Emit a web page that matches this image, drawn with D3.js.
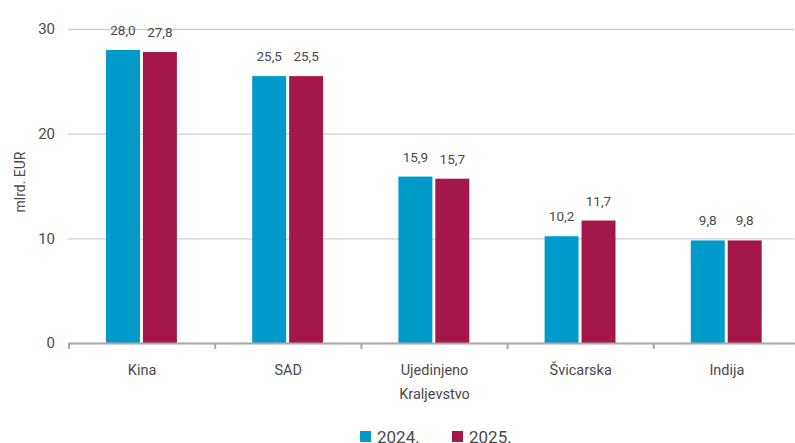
<!DOCTYPE html>
<html><head><meta charset="utf-8">
<script src="https://cdn.jsdelivr.net/npm/d3@7"></script>
<style>
html,body{margin:0;padding:0;background:#fff;overflow:hidden}
text{font-family:Roboto,"Noto Sans",sans-serif;fill:#4a4a4a}
</style></head>
<body><svg id="c" width="795" height="443"></svg>
<script>
const categories = ["Kina", "SAD", "Ujedinjeno Kraljevstvo", "Švicarska", "Indija"];
const series = ["2024.", "2025."];
const values2024 = [28.0, 25.5, 15.9, 10.2, 9.8];
const values2025 = [27.8, 25.5, 15.7, 11.7, 9.8];
const yTicks = [0, 10, 20, 30];
const colors = ["#009bca", "#a4174b"];
const yTitle = "mlrd. EUR";

(function(){
const svg = d3.select("#c");
const mLeft = 69, mRight = 800, mTop = 29, mBottom = 343;
const x = d3.scaleBand().domain(categories).range([mLeft, mRight]).paddingInner(0).paddingOuter(0);
const bw = x.bandwidth();
const x1 = d3.scaleBand().domain(series).range([bw*0.253, bw*0.738]).paddingInner(0.08);
const y = d3.scaleLinear().domain([0, 30]).range([mBottom, mTop]);
const fmt = v => v.toFixed(1).replace(".", ",");

const ya = svg.append("g").attr("transform", `translate(${mLeft-1},0)`)
  .call(d3.axisLeft(y).tickValues(yTicks).tickSize(-(795-mLeft)).tickPadding(13).tickFormat(d3.format("d")));
ya.select(".domain").remove();
ya.selectAll(".tick line").attr("stroke", "#cfcfcf").attr("stroke-width", 1.3);
ya.selectAll(".tick text").style("font-size", "15px").attr("fill", "#4a4a4a");

svg.append("text").attr("transform", `translate(25,182) rotate(-90)`)
  .attr("text-anchor", "middle").style("font-size", "14px").text(yTitle);

const data = categories.map((c, i) => ({c, vals: [values2024[i], values2025[i]]}));
const groups = svg.selectAll("g.grp").data(data).join("g").attr("class", "grp")
  .attr("transform", d => `translate(${x(d.c)},0)`);
groups.selectAll("rect").data(d => d.vals.map((v, j) => ({s: series[j], v, j})))
  .join("rect")
  .attr("x", d => x1(d.s)).attr("width", x1.bandwidth())
  .attr("y", d => y(d.v)).attr("height", d => y(0) - y(d.v))
  .attr("fill", d => colors[d.j]);
groups.selectAll("text.val").data(d => d.vals.map((v, j) => ({s: series[j], v, j})))
  .join("text").attr("class", "val")
  .attr("x", d => x1(d.s) + x1.bandwidth()/2)
  .attr("y", d => y(d.v) - 15)
  .attr("text-anchor", "middle").style("font-size", "13.5px").text(d => fmt(d.v));

const xa = svg.append("g").attr("transform", `translate(0,${mBottom})`)
  .call(d3.axisBottom(x).tickSize(0).tickPadding(0).tickFormat(""));
xa.select(".domain").attr("stroke", "#aaaaaa").attr("stroke-width", 2.2);
const edges = categories.map(c => x(c)).concat([x.range()[1]]);
svg.append("g").selectAll("line").data(edges).join("line")
  .attr("x1", d => d).attr("x2", d => d).attr("y1", mBottom).attr("y2", mBottom + 6)
  .attr("stroke", "#aaaaaa").attr("stroke-width", 2);
xa.selectAll(".tick").each(function(c) {
  const t = d3.select(this).select("text").text(null)
    .attr("y", 0).attr("dy", null).style("font-size", "14.5px").attr("fill", "#4a4a4a");
  const lines = c === "Ujedinjeno Kraljevstvo" ? ["Ujedinjeno", "Kraljevstvo"] : [c];
  lines.forEach((l, i) => t.append("tspan").attr("x", 0).attr("y", 32 + i*24).text(l));
});

const lg = svg.append("g").attr("transform", "translate(360,431)");
series.forEach((s, i) => {
  const g = lg.append("g").attr("transform", `translate(${i*92},0)`);
  g.append("rect").attr("width", 11).attr("height", 11).attr("fill", colors[i]);
  g.append("text").attr("x", 17).attr("y", 12).style("font-size", "17px").text(s);
});
})();
</script></body></html>
